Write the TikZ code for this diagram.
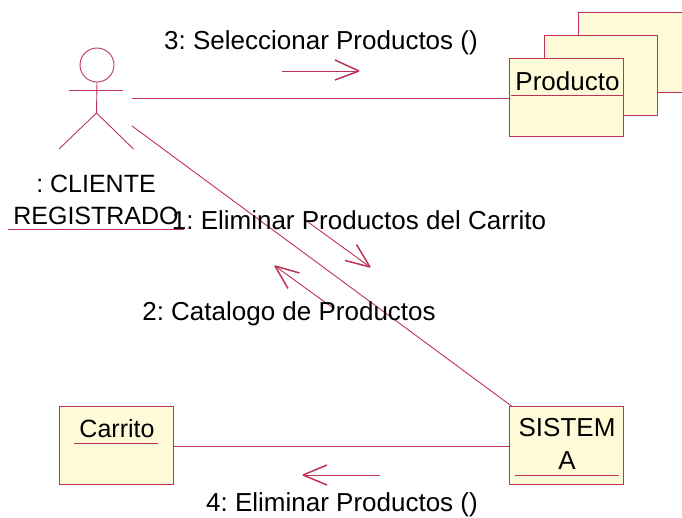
\documentclass[tikz,border=0pt]{standalone}
\usepackage{fontspec}
\setmainfont{Liberation Sans}
\definecolor{umlline}{HTML}{BC3355}
\definecolor{umlfill}{HTML}{FFFBD9}
\tikzset{
  x=1pt,y=-1pt,
  cls/.style={draw=umlline,fill=umlfill,line width=0.9pt,rectangle,inner sep=0pt,anchor=north west},
  conn/.style={draw=umlline,line width=0.9pt},
  msg/.style={draw=umlline,line width=1.5pt},
  lbl/.style={font=\fontsize{26}{26}\selectfont\frenchspacing,text=black,inner sep=0pt,anchor=base},
  lblsm/.style={lbl,font=\fontsize{25}{25}\selectfont\frenchspacing},
  ul/.style={draw=umlline,line width=0.8pt},
}
\newcommand{\openhead}[3]{%
  \draw[msg] (#1) -- (#3);
  \draw[msg] (#2) -- (#3);}
\begin{document}
\begin{tikzpicture}
\useasboundingbox (0,0) rectangle (682,517);
% Producto stack
\node[cls,minimum width=114pt,minimum height=80pt] (p3) at (578,12) {};
\node[cls,minimum width=113pt,minimum height=80pt] (p2) at (544,35) {};
\node[cls,minimum width=113.5pt,minimum height=78pt] (p1) at (509,58) {};
\node[lbl] (ptext) at (567.5,90) {Producto};
\coordinate (pa) at (511,95.5); \coordinate (pb) at (623,95.5);
\draw[ul] (pa) -- (pb);
% Carrito
\node[cls,minimum width=113.5pt,minimum height=78pt] (carrito) at (59,406) {};
\node[lblsm] (ctext) at (117,437) {Carrito};
\coordinate (ca) at (74,443); \coordinate (cb) at (158,443);
\draw[ul] (ca) -- (cb);
% Sistema
\node[cls,minimum width=113.5pt,minimum height=78pt] (sistema) at (509,406) {};
\node[lbl] (s1) at (567,436) {SISTEM};
\node[lbl] (s2) at (567,469) {A};
\coordinate (sa) at (515,475); \coordinate (sb) at (619,475);
\draw[ul] (sa) -- (sb);
% Actor
\node[draw=umlline,line width=0.9pt,circle,minimum size=34pt,inner sep=0pt] (head) at (97,65) {};
\coordinate (hip) at (96.5,113);
\coordinate (arml) at (69,90.5); \coordinate (armr) at (123,90.5);
\coordinate (legl) at (59,149); \coordinate (legr) at (133.5,149);
\draw[conn] (head.south) -- (hip);
\draw[conn] (arml) -- (armr);
\draw[conn] (legl) -- (hip) -- (legr);
\node[lblsm] (a1) at (96,192) {: CLIENTE};
\node[lblsm] (a2) at (96,224) {REGISTRADO};
\coordinate (ua) at (8,229.5); \coordinate (ub) at (184,229.5);
\draw[ul] (ua) -- (ub);
% Connectors
\coordinate (act1) at (132,98.5);
\coordinate (act2) at (132,126);
\coordinate (sys1) at (511.5,406);
\coordinate (car1) at (174,446.5);
\draw[conn] (act1) -- (act1 -| p1.west);
\draw[conn] (act2) -- (sys1);
\draw[conn] (car1) -- (car1 -| sistema.west);
% Messages
\coordinate (m3s) at (282,71); \coordinate (m3e) at (359,71);
\coordinate (m3a) at (335,60); \coordinate (m3b) at (335,80);
\draw[conn] (m3s) -- (m3e);
\openhead{m3a}{m3b}{m3e}
\coordinate (m1s) at (308,222); \coordinate (m1e) at (370,267);
\coordinate (m1a) at (356.5,244.5); \coordinate (m1b) at (345,260.5);
\draw[conn] (m1s) -- (m1e);
\openhead{m1a}{m1b}{m1e}
\coordinate (m2s) at (333,308); \coordinate (m2e) at (275,266);
\coordinate (m2a) at (299.5,273); \coordinate (m2b) at (288,288.5);
\draw[conn] (m2s) -- (m2e);
\openhead{m2a}{m2b}{m2e}
\coordinate (m4s) at (380,475); \coordinate (m4e) at (303,475);
\coordinate (m4a) at (327,465); \coordinate (m4b) at (327,485);
\draw[conn] (m4s) -- (m4e);
\openhead{m4a}{m4b}{m4e}
% Labels
\node[lbl] (l3) at (321,49) {3: Seleccionar Productos ()};
\node[lbl] (l1) at (359,229) {1: Eliminar Productos del Carrito};
\node[lbl] (l2) at (289,320) {2: Catalogo de Productos};
\node[lbl] (l4) at (342,511) {4: Eliminar Productos ()};
\end{tikzpicture}
\end{document}
